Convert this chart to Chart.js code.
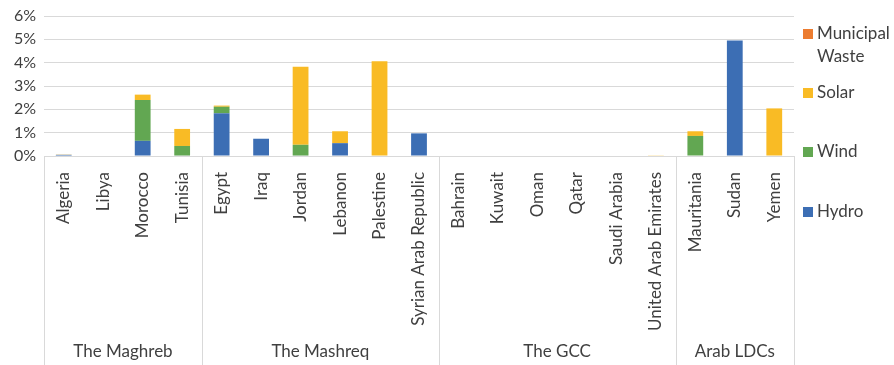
<!DOCTYPE html>
<html>
<head>
<meta charset="utf-8">
<script src="https://cdn.jsdelivr.net/npm/chart.js@4/dist/chart.umd.min.js"></script>
<style>
  html, body { margin: 0; padding: 0; background: #fff; }
  #wrap { width: 894px; height: 365px; position: relative; }
</style>
</head>
<body>
<div id="wrap"><canvas id="chart"></canvas></div>
<script>
// Categories and groups
const countries = ["Algeria", "Libya", "Morocco", "Tunisia",
  "Egypt", "Iraq", "Jordan", "Lebanon", "Palestine", "Syrian Arab Republic",
  "Bahrain", "Kuwait", "Oman", "Qatar", "Saudi Arabia", "United Arab Emirates",
  "Mauritania", "Sudan", "Yemen"];
const groups = ["The Maghreb", "The Mashreq", "The GCC", "Arab LDCs"];
const groupSizes = [4, 6, 6, 3];

// Shares (%)
const hydro = [0.05, 0, 0.65, 0.02, 1.83, 0.74, 0.02, 0.55, 0, 0.97, 0, 0, 0, 0, 0, 0, 0, 4.95, 0];
const wind  = [0, 0, 1.75, 0.41, 0.28, 0, 0.46, 0, 0, 0, 0, 0, 0, 0, 0, 0, 0.86, 0, 0];
const solar = [0.01, 0, 0.23, 0.73, 0.05, 0, 3.35, 0.51, 4.06, 0, 0, 0, 0, 0, 0, 0.03, 0.2, 0, 2.04];
const waste = [0, 0, 0, 0, 0, 0, 0, 0, 0, 0, 0, 0, 0, 0, 0, 0, 0, 0, 0];
const yTicks = [0, 1, 2, 3, 4, 5, 6];

const FONT = "Lato, 'Open Sans', sans-serif";
const TEXT = "#404040";
const LINE = "#d9d9d9";

// group labels, separators and the legend drawn by hand
const excelExtras = {
  id: "excelExtras",
  afterDraw(chart) {
    const ctx = chart.ctx;
    const area = chart.chartArea;
    const step = (area.right - area.left) / countries.length;
    const bottom = chart.height;
    ctx.save();
    ctx.strokeStyle = LINE;
    ctx.lineWidth = 1;
    let start = 0;
    const edges = [0];
    groupSizes.forEach((n) => { start += n; edges.push(start); });
    edges.forEach((e) => {
      const px = Math.round(area.left + e * step) + 0.5;
      ctx.beginPath();
      ctx.moveTo(px, area.bottom);
      ctx.lineTo(px, bottom);
      ctx.stroke();
    });
    ctx.fillStyle = TEXT;
    ctx.font = "17px " + FONT;
    ctx.textAlign = "center";
    ctx.textBaseline = "middle";
    groups.forEach((g, i) => {
      const cx = area.left + ((edges[i] + edges[i + 1]) / 2) * step;
      ctx.fillText(g, cx, 352);
    });

    // legend, top to bottom
    const items = [
      { ds: 3, lines: ["Municipal", "Waste"], y: 34 },
      { ds: 2, lines: ["Solar"], y: 93 },
      { ds: 1, lines: ["Wind"], y: 152 },
      { ds: 0, lines: ["Hydro"], y: 212 },
    ];
    ctx.textAlign = "left";
    items.forEach((it) => {
      ctx.fillStyle = chart.data.datasets[it.ds].backgroundColor;
      ctx.fillRect(803, it.y - 5, 10, 10);
      ctx.fillStyle = TEXT;
      it.lines.forEach((t, k) => ctx.fillText(t, 817, it.y + k * 23));
    });
    ctx.restore();
  },
};

new Chart(document.getElementById("chart"), {
  type: "bar",
  data: {
    labels: countries,
    datasets: [
      { label: "Hydro", data: hydro, backgroundColor: "#3c6eb4" },
      { label: "Wind", data: wind, backgroundColor: "#62a752" },
      { label: "Solar", data: solar, backgroundColor: "#f9bb25" },
      { label: "Municipal Waste", data: waste, backgroundColor: "#ec7c30" },
    ].map((d) => Object.assign(d, {
      barPercentage: 0.4,
      categoryPercentage: 1,
      borderWidth: 0,
    })),
  },
  options: {
    responsive: true,
    maintainAspectRatio: false,
    animation: false,
    layout: { padding: { top: 12, right: 100, left: 0, bottom: 0 } },
    plugins: { legend: { display: false }, tooltip: { enabled: false } },
    scales: {
      x: {
        stacked: true,
        grid: { display: false },
        border: { display: false },
        afterFit(scale) { scale.height = 365 - 156; },
        ticks: {
          minRotation: 90,
          maxRotation: 90,
          autoSkip: false,
          padding: 8,
          color: TEXT,
          font: { family: FONT, size: 17 },
        },
      },
      y: {
        stacked: true,
        min: yTicks[0],
        max: yTicks[yTicks.length - 1],
        afterFit(scale) { scale.width = 44; },
        afterBuildTicks(scale) { scale.ticks = yTicks.map((v) => ({ value: v })); },
        border: { display: false },
        grid: { color: LINE, drawTicks: false },
        ticks: {
          autoSkip: false,
          padding: 8,
          color: TEXT,
          font: { family: FONT, size: 16, lineHeight: 1 },
          callback: (v) => v + "%",
        },
      },
    },
  },
  plugins: [excelExtras],
});
</script>
</body>
</html>
